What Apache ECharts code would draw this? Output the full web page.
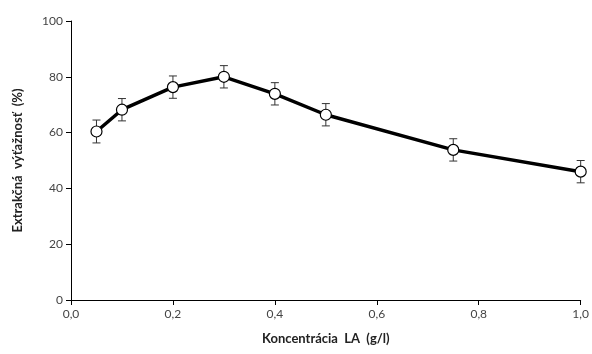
<!DOCTYPE html>
<html>
<head>
<meta charset="utf-8">
<style>
  html, body { margin: 0; padding: 0; background: #fff; }
  #chart { width: 592px; height: 354px; }
</style>
<script src="https://cdn.jsdelivr.net/npm/echarts@6/dist/echarts.min.js"></script>
</head>
<body>
<div id="chart"></div>
<script>
"use strict";
// data
var concentration = [0.05, 0.1, 0.2, 0.3, 0.4, 0.5, 0.75, 1.0];
var yieldPct = [60.4, 68.2, 76.3, 80.0, 73.9, 66.4, 53.8, 46.0];
var errPct = [4.1, 4.0, 4.0, 4.0, 4.0, 4.0, 4.0, 4.0];
var xTicks = ["0,0", "0,2", "0,4", "0,6", "0,8", "1,0"];

var chart = echarts.init(document.getElementById("chart"));

var lineData = concentration.map(function (x, i) { return [x, yieldPct[i]]; });
var errData = concentration.map(function (x, i) {
  return [x, yieldPct[i] - errPct[i], yieldPct[i] + errPct[i]];
});

var fontFam = "Lato, 'Open Sans', sans-serif";

chart.setOption({
  animation: false,
  grid: { left: 71, right: 11, top: 21, bottom: 54 },
  xAxis: {
    type: "value",
    min: 0, max: 1, interval: 0.2,
    name: "Koncentrácia  LA  (g/l)",
    nameLocation: "middle",
    nameGap: 32,
    nameTextStyle: { fontFamily: fontFam, fontWeight: "bold", fontSize: 13, color: "#222" },
    axisLine: { lineStyle: { color: "#000", width: 1 } },
    axisTick: { show: true, length: 5, lineStyle: { color: "#000" } },
    axisLabel: {
      fontFamily: fontFam, fontSize: 12, color: "#444", margin: 8,
      formatter: function (v) { return xTicks[Math.round(v / 0.2)]; }
    },
    splitLine: { show: false }
  },
  yAxis: {
    type: "value",
    min: 0, max: 100, interval: 20,
    name: "Extrakčná  výťažnosť  (%)",
    nameLocation: "middle",
    nameGap: 47,
    nameTextStyle: { fontFamily: fontFam, fontWeight: "bold", fontSize: 13, color: "#222" },
    axisLine: { show: true, lineStyle: { color: "#000", width: 1 } },
    axisTick: { show: true, length: 5, lineStyle: { color: "#000" } },
    axisLabel: { fontFamily: fontFam, fontSize: 12, color: "#444", margin: 8 },
    splitLine: { show: false }
  },
  series: [
    {
      type: "custom",
      z: 1,
      renderItem: function (params, api) {
        var x = api.value(0);
        var lo = api.coord([x, api.value(1)]);
        var hi = api.coord([x, api.value(2)]);
        var hw = 4;
        var st = { stroke: "#333", lineWidth: 1 };
        return {
          type: "group",
          children: [
            { type: "line", shape: { x1: lo[0], y1: lo[1], x2: hi[0], y2: hi[1] }, style: st },
            { type: "line", shape: { x1: lo[0] - hw, y1: lo[1], x2: lo[0] + hw, y2: lo[1] }, style: st },
            { type: "line", shape: { x1: hi[0] - hw, y1: hi[1], x2: hi[0] + hw, y2: hi[1] }, style: st }
          ]
        };
      },
      encode: { x: 0, y: [1, 2] },
      data: errData
    },
    {
      type: "line",
      z: 2,
      data: lineData,
      symbol: "circle",
      symbolSize: 11,
      showAllSymbol: true,
      lineStyle: { color: "#000", width: 3.5 },
      itemStyle: { color: "#fff", borderColor: "#000", borderWidth: 1.2 }
    }
  ]
});
</script>
</body>
</html>
